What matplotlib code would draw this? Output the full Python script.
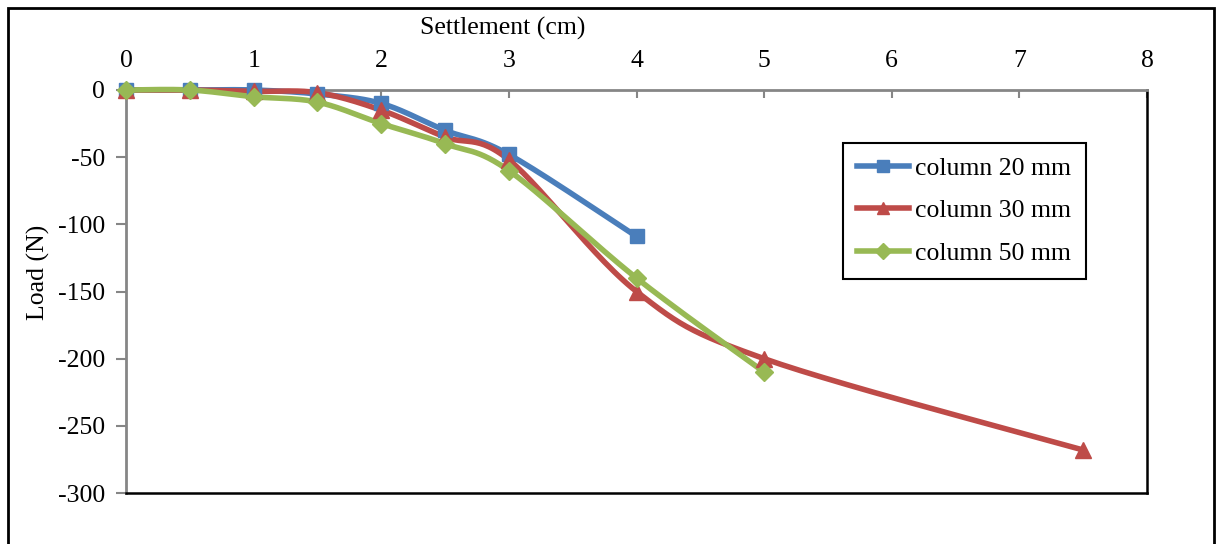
import numpy as np
import matplotlib
matplotlib.use("Agg")
import matplotlib.pyplot as plt
from matplotlib.patches import Rectangle

plt.rcParams['font.family'] = ['Liberation Serif', 'DejaVu Serif']
plt.rcParams['axes.unicode_minus'] = False

# Settlement (cm) and load (N) for each column diameter
settle_20 = [0, 0.5, 1, 1.5, 2, 2.5, 3, 4]
load_20 = [0, 0, 0, -3, -10, -30, -48, -109]

settle_30 = [0, 0.5, 1, 1.5, 2, 2.5, 3, 4, 5, 7.5]
load_30 = [0, 0, -1, -2, -15, -35, -52, -150, -200, -268]

settle_50 = [0, 0.5, 1, 1.5, 2, 2.5, 3, 4, 5]
load_50 = [0, 0, -5, -9, -25, -40, -60, -140, -210]

labels = ["column 20 mm", "column 30 mm", "column 50 mm"]
colors = ["#4A7EBB", "#BE4B48", "#98B954"]
markers = ["s", "^", "D"]
msizes = [10.5, 11, 9.5]

x_ticks = list(range(0, 9))
y_ticks = [0, -50, -100, -150, -200, -250, -300]


def smooth(xs, ys, n=30):
    """Catmull-Rom style cubic Bezier smoothing through every point."""
    p = np.column_stack([xs, ys]).astype(float)
    out = [p[0]]
    t = np.linspace(0, 1, n)[1:, None]
    for i in range(len(p) - 1):
        p0 = p[i - 1] if i > 0 else p[i]
        p1, p2 = p[i], p[i + 1]
        p3 = p[i + 2] if i + 2 < len(p) else p[i + 1]
        c1 = p1 + (p2 - p0) / 6.0
        c2 = p2 - (p3 - p1) / 6.0
        seg = ((1 - t) ** 3) * p1 + 3 * ((1 - t) ** 2) * t * c1 \
            + 3 * (1 - t) * t ** 2 * c2 + t ** 3 * p2
        out.extend(seg)
    out = np.array(out)
    return out[:, 0], out[:, 1]


W, H = 1219, 544
fig = plt.figure(figsize=(W / 100, H / 100), dpi=100)
ax = fig.add_axes([126 / W, 1 - 493 / H, (1147 - 126) / W, (493 - 90) / H])

series = [(settle_20, load_20), (settle_30, load_30), (settle_50, load_50)]
handles = []
for (xs, ys), lab, col, mk, ms in zip(series, labels, colors, markers, msizes):
    sx, sy = smooth(xs, ys)
    ax.plot(sx, sy, color=col, lw=4, solid_capstyle='round', zorder=3,
            clip_on=False)
    ax.plot(xs, ys, linestyle='none', marker=mk, markersize=ms,
            color=col, markeredgecolor=col, zorder=4, clip_on=False)
    h, = ax.plot([], [], color=col, lw=4, marker=mk, markersize=ms * 0.85,
                 markeredgecolor=col)
    handles.append(h)

ax.set_xlim(0, 8)
ax.set_ylim(-300, 0)
ax.set_xticks(x_ticks)
ax.set_yticks(y_ticks)
ax.xaxis.tick_top()
ax.tick_params(axis='x', direction='in', length=6, width=1.5, color='#868686',
               labelsize=18.5, pad=13)
ax.tick_params(axis='y', direction='out', length=7, width=1.5, color='#868686',
               labelsize=18.5, pad=8)

for side in ('top', 'left'):
    ax.spines[side].set_color('#868686')
    ax.spines[side].set_linewidth(2)
for side in ('bottom', 'right'):
    ax.spines[side].set_color('black')
    ax.spines[side].set_linewidth(1.8)

fig.text(503 / W, 1 - 28 / H, "Settlement (cm)", ha='center', va='center',
         fontsize=18.5)
fig.text(38 / W, 1 - 272 / H, "Load (N)", ha='center', va='center',
         rotation=90, fontsize=18.5)

leg = ax.legend(handles, labels, loc='upper left',
                bbox_to_anchor=(843 / W, 1 - 278 / H, (1086 - 843) / W, (278 - 143) / H),
                bbox_transform=fig.transFigure, mode='expand',
                fontsize=18.5, frameon=True, fancybox=False, framealpha=1,
                edgecolor='black', handlelength=2.0, handletextpad=0.25,
                labelspacing=0.75, borderpad=0.55, borderaxespad=0)
leg.get_frame().set_linewidth(1.5)

# Outer chart border
fig.patches.append(Rectangle((8 / W, -0.05), (1214 - 8) / W, 1 - 8 / H + 0.05,
                             transform=fig.transFigure, fill=False,
                             edgecolor='black', linewidth=2))

fig.savefig("out.png", dpi=100)
